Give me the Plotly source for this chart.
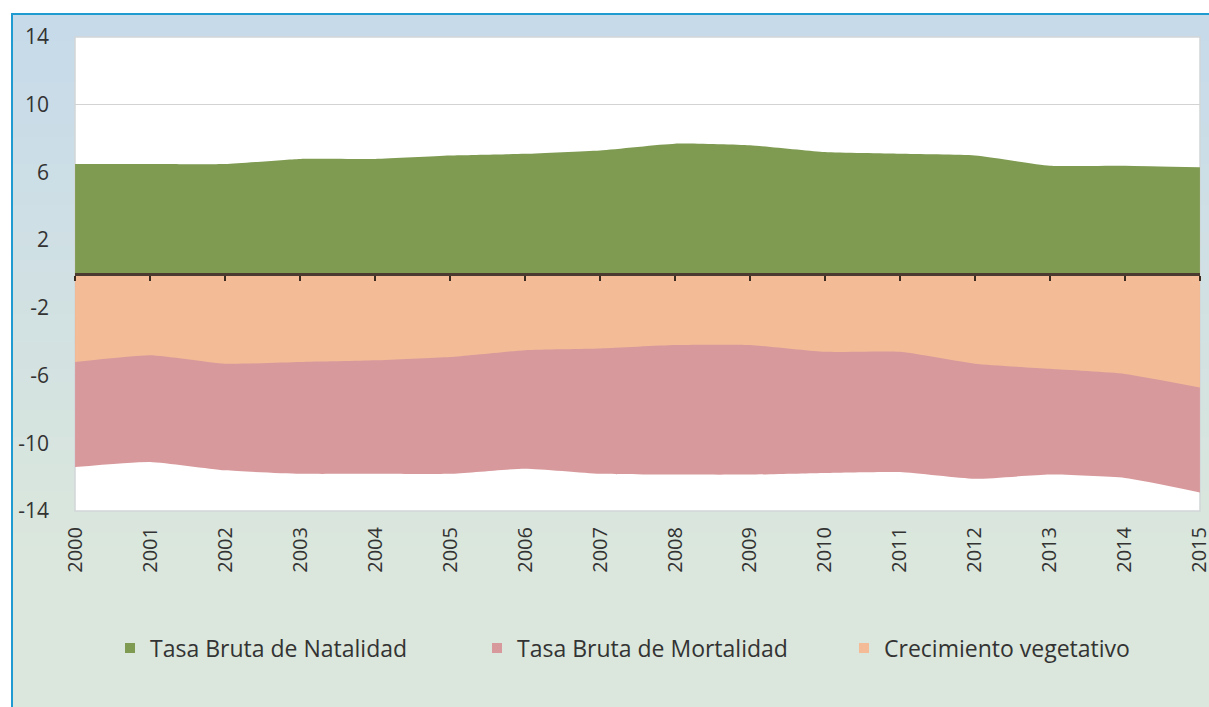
import plotly.graph_objects as go

years = list(range(2000, 2016))
natalidad = [6.5, 6.5, 6.5, 6.8, 6.8, 7.0, 7.1, 7.3, 7.7, 7.6, 7.2, 7.1, 7.0, 6.4, 6.4, 6.3]
mortalidad = [-11.4, -11.1, -11.6, -11.8, -11.8, -11.8, -11.5, -11.8, -11.85, -11.85, -11.75, -11.7, -12.1, -11.85, -12.05, -12.9]
crecimiento = [-5.2, -4.8, -5.3, -5.2, -5.1, -4.9, -4.5, -4.4, -4.2, -4.2, -4.6, -4.6, -5.3, -5.6, -5.9, -6.7]
y_ticks = [14, 10, 6, 2, -2, -6, -10, -14]
series_names = ["Tasa Bruta de Natalidad", "Tasa Bruta de Mortalidad", "Crecimiento vegetativo"]
series_colors = ["#7f9b52", "#d8999c", "#f3bc97"]

FONT = "Open Sans"
W, H = 1209, 707
L, R, T = 75, 9, 37
B = H - 511
pw, ph = W - L - R, H - T - B

def px_x(x):  # page pixel -> paper fraction
    return (x - L) / pw

def px_y(y):
    return (H - B - y) / ph

fig = go.Figure()
for name, vals, col in zip(series_names, [natalidad, mortalidad, crecimiento], series_colors):
    fig.add_trace(go.Scatter(
        x=years, y=vals, name=name, mode="lines", showlegend=False,
        line=dict(width=0, color=col, shape="spline", smoothing=0.5),
        fill="tozeroy", fillcolor=col,
    ))
# legend entries as small squares
for name, col in zip(series_names, series_colors):
    fig.add_trace(go.Scatter(x=[None], y=[None], name=name, mode="markers",
                             marker=dict(symbol="square", size=10, color=col)))

# invisible trace on secondary axis carrying the zero-line tick marks
fig.add_trace(go.Scatter(x=years, y=[0] * len(years), xaxis="x2", mode="lines",
                         line=dict(width=0), showlegend=False, hoverinfo="skip"))

def lerp(c1, c2, t):
    a = [int(c1[i:i + 2], 16) for i in (1, 3, 5)]
    b = [int(c2[i:i + 2], 16) for i in (1, 3, 5)]
    return "#%02x%02x%02x" % tuple(round(a[k] + (b[k] - a[k]) * t) for k in range(3))

shapes = []
top_px, grad_end = 14, 560
n = 40
for i in range(n):
    y0 = top_px + (grad_end - top_px) * i / n
    y1 = top_px + (grad_end - top_px) * (i + 1) / n + 1
    shapes.append(dict(type="rect", xref="paper", yref="paper", layer="below",
                       x0=px_x(12), x1=px_x(1240), y0=px_y(y1), y1=px_y(y0),
                       fillcolor=lerp("#c6daea", "#dbe7dc", i / (n - 1)), line=dict(width=0)))
shapes.append(dict(type="rect", xref="paper", yref="paper", layer="below",
                   x0=px_x(12), x1=px_x(1240), y0=px_y(740), y1=px_y(grad_end),
                   fillcolor="#dbe7dc", line=dict(width=0)))
shapes.append(dict(type="rect", xref="paper", yref="paper", layer="below",
                   x0=0, x1=1, y0=0, y1=1, fillcolor="white", line=dict(width=1.5, color="#d2d6d8")))
shapes.append(dict(type="rect", xref="paper", yref="paper", layer="above",
                   x0=px_x(12), x1=px_x(1240), y0=px_y(740), y1=px_y(14),
                   fillcolor="rgba(0,0,0,0)", line=dict(width=2, color="#1f9bd1")))

fig.update_layout(
    width=W, height=H,
    margin=dict(l=L, r=R, t=T, b=B, autoexpand=False),
    paper_bgcolor="white", plot_bgcolor="white",
    font=dict(family=FONT, color="#333333", size=20),
    shapes=shapes,
    showlegend=True,
    legend=dict(orientation="h", x=px_x(110), xanchor="left", y=px_y(648), yanchor="middle",
                font=dict(family=FONT, size=23, color="#333333"),
                bgcolor="rgba(0,0,0,0)", itemwidth=30, entrywidth=322,
                traceorder="normal"),
    xaxis=dict(range=[1999.999, 2015.001], tickvals=years, ticktext=[str(y) for y in years],
               tickangle=-90, showgrid=False, zeroline=False, showline=False, ticks="",
               tickfont=dict(size=20, color="#333333"), ticklabelstandoff=11,
               ticklabeloverflow="allow", automargin=False),
    xaxis2=dict(range=[1999.999, 2015.001], overlaying="x", anchor="free", position=0.5,
                tickvals=years, showticklabels=False, ticks="outside", ticklen=5,
                tickcolor="#3a2a20", tickwidth=1.5,
                showline=True, linecolor="#4a3a30", linewidth=2.5,
                showgrid=False, zeroline=False, automargin=False),
    yaxis=dict(range=[-14, 14], tickvals=y_ticks, ticktext=[str(v) for v in y_ticks],
               showgrid=True, gridcolor="#d3d3d3", gridwidth=1, zeroline=False,
               showline=False, ticks="", tickfont=dict(size=21, color="#333333"),
               ticklabelstandoff=25, automargin=False),
)

fig.write_html("out.html", config={"displayModeBar": False},
               post_script="document.body.style.margin='0';document.body.style.overflow='hidden';")
